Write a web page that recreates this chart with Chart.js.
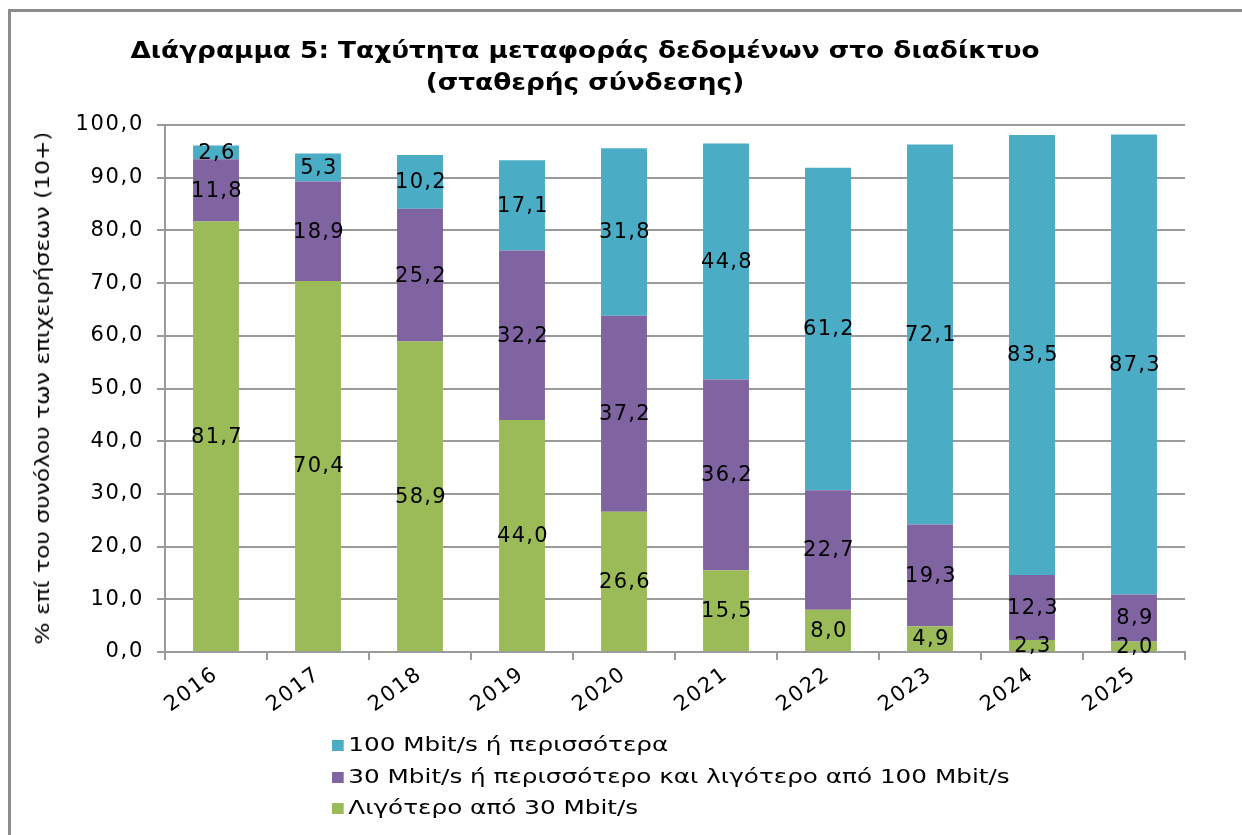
<!DOCTYPE html>
<html>
<head>
<meta charset="utf-8">
<script src="https://cdn.jsdelivr.net/npm/chart.js@4"></script>
<style>
  body { margin: 0; background: #fff; }
  #wrap { position: relative; width: 1242px; height: 835px; overflow: hidden; }
  .line { position: absolute; background: #8c8c8c; }
  #chart { position: absolute; left: 0; top: 0; }
  #title { position: absolute; left: 585px; top: 34px; white-space: nowrap; text-align: center;
           font: bold 23px "DejaVu Sans", sans-serif; line-height: 32px; color: #000;
           transform: translateX(-50%) scaleX(1.145); }
  #ytitle { position: absolute; left: 42px; top: 388px; white-space: nowrap;
            font: 19px "DejaVu Sans", sans-serif; color: #000;
            transform: translate(-50%, -50%) rotate(-90deg) scaleX(1.23); }
  #legend { position: absolute; left: 332px; top: 729px; font: 19px "DejaVu Sans", sans-serif; color: #000;
            transform: scaleX(1.3); transform-origin: left top; }
  #legend div { height: 31.5px; line-height: 31.5px; white-space: nowrap; }
  #legend span { display: inline-block; width: 8.5px; height: 11px; margin-right: 4px; vertical-align: 0px; }
</style>
</head>
<body>
<div id="wrap">
  <div class="line" style="left:8px; top:9px; width:1240px; height:3px"></div>
  <div class="line" style="left:8px; top:9px; width:3px; height:830px"></div>
  <canvas id="chart" width="1242" height="835"></canvas>
  <div id="title">Διάγραμμα 5: Ταχύτητα μεταφοράς δεδομένων στο διαδίκτυο<br>(σταθερής σύνδεσης)</div>
  <div id="ytitle">% επί του συνόλου των επιχειρήσεων (10+)</div>
  <div id="legend"></div>
</div>
<script>
const years = ["2016", "2017", "2018", "2019", "2020", "2021", "2022", "2023", "2024", "2025"];
const under30 = [81.7, 70.4, 58.9, 44.0, 26.6, 15.5, 8.0, 4.9, 2.3, 2.0];
const from30to100 = [11.8, 18.9, 25.2, 32.2, 37.2, 36.2, 22.7, 19.3, 12.3, 8.9];
const over100 = [2.6, 5.3, 10.2, 17.1, 31.8, 44.8, 61.2, 72.1, 83.5, 87.3];
const yTicks = [0, 10, 20, 30, 40, 50, 60, 70, 80, 90, 100];

const seriesNames = [
  "Λιγότερο από 30 Mbit/s",
  "30 Mbit/s ή περισσότερο και λιγότερο από 100 Mbit/s",
  "100 Mbit/s ή περισσότερα"
];
const colors = ["#9bbb59", "#8064a2", "#4bacc6"];

const fmt = v => v.toFixed(1).replace(".", ",");

// the original text is a bit wider than DejaVu, spread it a little
const spacing = {
  id: "spacing",
  beforeLayout(chart) { chart.ctx.letterSpacing = "1.7px"; },
  beforeDraw(chart) { chart.ctx.letterSpacing = "1.7px"; }
};

// value labels in the middle of every segment
const barLabels = {
  id: "barLabels",
  afterDatasetsDraw(chart) {
    const c = chart.ctx;
    c.save();
    c.letterSpacing = "1.3px";
    c.font = "21px 'DejaVu Sans'";
    c.fillStyle = "#000";
    c.textAlign = "center";
    c.textBaseline = "middle";
    chart.data.datasets.forEach((ds, i) => {
      chart.getDatasetMeta(i).data.forEach((bar, j) => {
        c.fillText(fmt(ds.data[j]), bar.x + 1, (bar.y + bar.base) / 2 + 1);
      });
    });
    c.restore();
  }
};

const gridGray = "#9a9a9a";

new Chart(document.getElementById("chart"), {
  type: "bar",
  data: {
    labels: years,
    datasets: [
      { label: seriesNames[0], data: under30, backgroundColor: colors[0] },
      { label: seriesNames[1], data: from30to100, backgroundColor: colors[1] },
      { label: seriesNames[2], data: over100, backgroundColor: colors[2] }
    ]
  },
  options: {
    responsive: false,
    animation: false,
    devicePixelRatio: 1,
    layout: { padding: { left: 22, top: 125, right: 57, bottom: 100 } },
    datasets: { bar: { categoryPercentage: 1, barPercentage: 0.45 } },
    plugins: { legend: { display: false }, title: { display: false }, tooltip: { enabled: false } },
    scales: {
      x: {
        stacked: true,
        afterFit: s => { s.height = 83; },
        grid: { offset: true, drawOnChartArea: false, drawTicks: true, tickLength: 8, color: gridGray, lineWidth: 2 },
        border: { color: gridGray, width: 2 },
        ticks: { color: "#000", font: { family: "DejaVu Sans", size: 21 }, minRotation: 36, maxRotation: 36, padding: 2 }
      },
      y: {
        stacked: true,
        min: 0,
        max: 100,
        afterFit: s => { s.width = 165 - 22; },
        afterBuildTicks: s => { s.ticks = yTicks.map(v => ({ value: v })); },
        grid: { color: gridGray, lineWidth: 2, tickLength: 8 },
        border: { color: gridGray, width: 2 },
        ticks: { color: "#000", font: { family: "DejaVu Sans", size: 21 }, padding: 13, callback: v => fmt(v) }
      }
    }
  },
  plugins: [spacing, barLabels]
});

// legend, top to bottom as in the original
const legend = document.getElementById("legend");
[2, 1, 0].forEach(i => {
  legend.innerHTML += `<div><span style="background:${colors[i]}"></span>${seriesNames[i]}</div>`;
});
</script>
</body>
</html>
